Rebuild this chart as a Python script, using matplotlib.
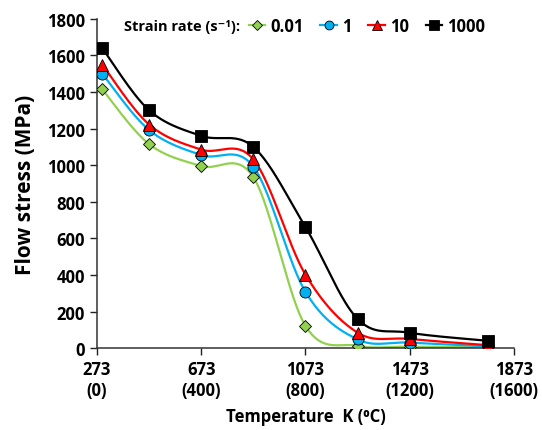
import numpy as np
import matplotlib
matplotlib.use("Agg")
from matplotlib import pyplot as plt

plt.rcParams['font.family'] = ['Open Sans', 'DejaVu Sans']
plt.rcParams['font.weight'] = 'bold'

# data
temps_k = [293, 473, 673, 873, 1073, 1273, 1473, 1773]
stress_001 = [1415, 1115, 995, 935, 122, 13, 8, 4]
stress_1 = [1500, 1192, 1055, 992, 308, 48, 30, 10]
stress_10 = [1550, 1222, 1085, 1032, 402, 85, 50, 16]
stress_1000 = [1640, 1300, 1160, 1100, 662, 160, 84, 40]

rates = ['0.01', '1', '10', '1000']
colors = ['#92D050', '#00B0F0', '#FF0000', '#000000']
markers = ['D', 'o', '^', 's']
msizes = [6.5, 8, 8.5, 8.5]

xticks = [273, 673, 1073, 1473, 1873]
xlabels = ['273\n(0)', '673\n(400)', '1073\n(800)', '1473\n(1200)', '1873\n(1600)']


def smooth(x, y, n=40):
    # excel-like smoothed line (catmull-rom bezier)
    p = np.column_stack([x, y]).astype(float)
    pts = [p[0]]
    for i in range(len(p) - 1):
        p0 = p[i - 1] if i > 0 else p[i]
        p3 = p[i + 2] if i + 2 < len(p) else p[i + 1]
        c1 = p[i] + (p[i + 1] - p0) / 6
        c2 = p[i + 1] - (p3 - p[i]) / 6
        t = np.linspace(0, 1, n)[1:, None]
        seg = ((1 - t) ** 3 * p[i] + 3 * (1 - t) ** 2 * t * c1
               + 3 * (1 - t) * t ** 2 * c2 + t ** 3 * p[i + 1])
        pts.extend(seg)
    pts = np.array(pts)
    return pts[:, 0], pts[:, 1]


fig = plt.figure(figsize=(5.42, 4.31), dpi=100)
ax = fig.add_axes([0.179, 0.190, 0.769, 0.764])

series = [stress_001, stress_1, stress_10, stress_1000]
for ys, lab, c, m, ms in zip(series, rates, colors, markers, msizes):
    sx, sy = smooth(temps_k, ys)
    ax.plot(sx, sy, color=c, lw=1.6, zorder=2)
    ax.plot(temps_k, ys, ls='none', marker=m, ms=ms, mfc=c, mec='black',
            mew=0.6, zorder=3)
    ax.plot([], [], color=c, lw=1.6, marker=m, ms=ms * 0.8, mfc=c, mec='black',
            mew=0.6, label=lab)

ax.set_xlim(273, 1873)
ax.set_ylim(0, 1800)
ax.set_xticks(xticks)
ax.set_xticklabels(xlabels)
ax.set_yticks(np.arange(0, 1801, 200))
ax.tick_params(labelsize=12, direction='out', length=5, width=1, colors='#222222')
for lbl in ax.get_xticklabels() + ax.get_yticklabels():
    lbl.set_fontweight('bold')
    lbl.set_color('black')
ax.spines['top'].set_visible(False)
ax.spines['right'].set_visible(False)
for s in ['left', 'bottom']:
    ax.spines[s].set_color('#333333')
    ax.spines[s].set_linewidth(1.1)

ax.set_ylabel('Flow stress (MPa)', fontsize=15, fontweight='bold', labelpad=8)
ax.set_xlabel('Temperature  K (\u2070C)', fontsize=12, fontweight='bold', labelpad=6)

fig.text(0.229, 0.937, 'Strain rate (s\u207b\u00b9):', fontsize=10.5,
         fontweight='bold', va='center')
ax.legend(loc='center left', bbox_to_anchor=(0.459, 0.937),
          bbox_transform=fig.transFigure, ncol=4, frameon=False,
          handlelength=1.0, handletextpad=0.3, columnspacing=1.0,
          prop={'size': 12, 'weight': 'bold'}, borderaxespad=0, borderpad=0)

fig.savefig('out.png', dpi=100)
